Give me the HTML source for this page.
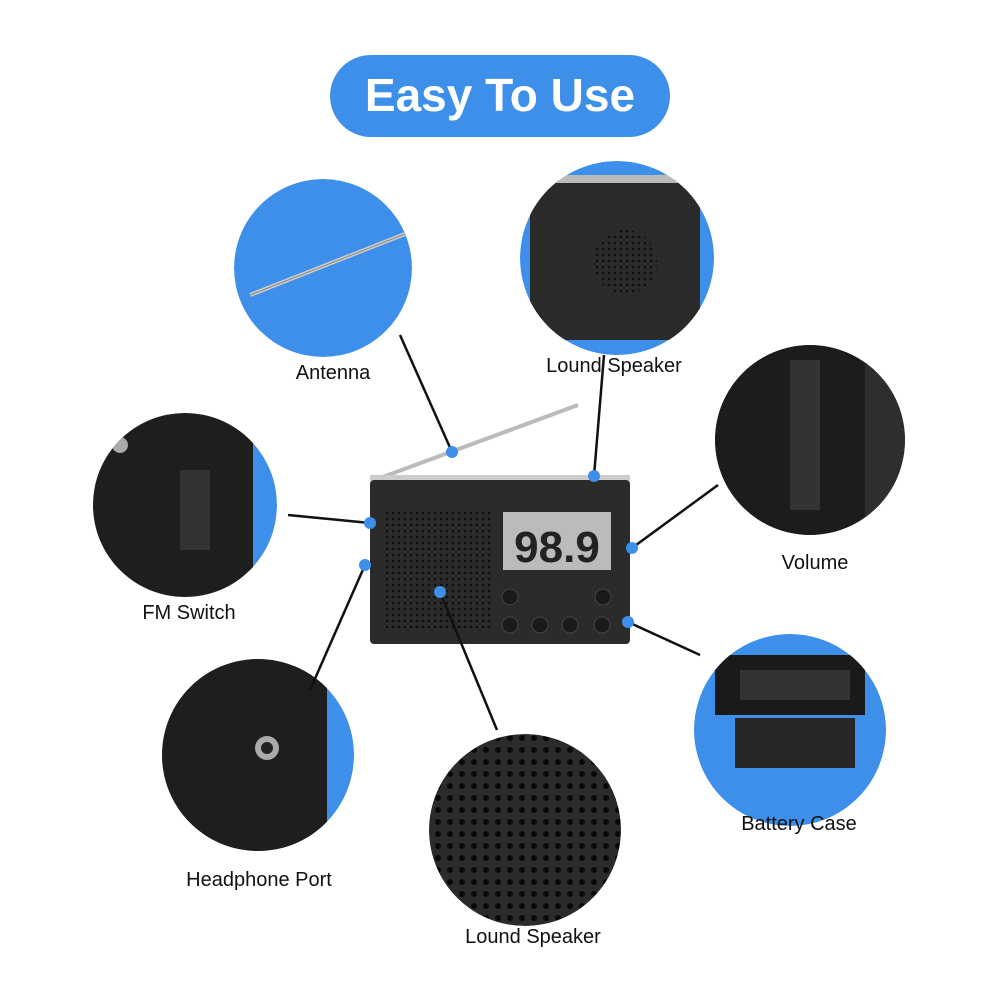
<!DOCTYPE html>
<html><head><style>
body{margin:0;background:#fff;width:1000px;height:1000px;overflow:hidden}
</style></head><body>
<svg width="1000" height="1000" viewBox="0 0 1000 1000" xmlns="http://www.w3.org/2000/svg" font-family="Liberation Sans, sans-serif">
<defs>
<pattern id="dots" width="6" height="6" patternUnits="userSpaceOnUse"><rect width="6" height="6" fill="#2a2a2a"/><circle cx="3" cy="3" r="1.3" fill="#0d0d0d"/></pattern>
<pattern id="dots2" width="12" height="12" patternUnits="userSpaceOnUse"><rect width="12" height="12" fill="#2b2b2b"/><circle cx="6" cy="6" r="3" fill="#080808"/></pattern>
<clipPath id="c1"><circle cx="323" cy="268" r="89"/></clipPath>
<clipPath id="c2"><circle cx="617" cy="258" r="97"/></clipPath>
<clipPath id="c3"><circle cx="810" cy="440" r="95"/></clipPath>
<clipPath id="c4"><circle cx="185" cy="505" r="92"/></clipPath>
<clipPath id="c5"><circle cx="258" cy="755" r="96"/></clipPath>
<clipPath id="c6"><circle cx="525" cy="830" r="96"/></clipPath>
<clipPath id="c7"><circle cx="790" cy="730" r="96"/></clipPath>
</defs>
<rect x="330" y="55" width="340" height="82" rx="41" fill="#3d8fea"/>
<text x="500" y="111" text-anchor="middle" font-size="46" font-weight="bold" fill="#fff">Easy To Use</text>

<g clip-path="url(#c1)"><circle cx="323" cy="268" r="89" fill="#3d8fea"/>
<line x1="250" y1="295" x2="410" y2="232" stroke="#ccc" stroke-width="4"/><line x1="250" y1="295" x2="410" y2="232" stroke="#888" stroke-width="1"/></g>
<g clip-path="url(#c2)"><circle cx="617" cy="258" r="97" fill="#3d8fea"/>
<rect x="530" y="180" width="170" height="160" rx="8" fill="#2a2a2a"/>
<rect x="525" y="175" width="180" height="8" fill="#bbb"/>
<circle cx="625" cy="262" r="32" fill="url(#dots)"/></g>
<g clip-path="url(#c3)"><circle cx="810" cy="440" r="95" fill="#3d8fea"/>
<rect x="715" y="345" width="185" height="190" fill="#1c1c1c"/>
<rect x="790" y="360" width="30" height="150" fill="#333"/>
<rect x="865" y="345" width="40" height="190" fill="#2e2e2e"/></g>
<g clip-path="url(#c4)"><circle cx="185" cy="505" r="92" fill="#3d8fea"/>
<rect x="93" y="413" width="160" height="184" fill="#1e1e1e"/>
<rect x="180" y="470" width="30" height="80" fill="#333"/>
<circle cx="120" cy="445" r="8" fill="#aaa"/></g>
<g clip-path="url(#c5)"><circle cx="258" cy="755" r="96" fill="#3d8fea"/>
<rect x="162" y="659" width="165" height="192" fill="#1e1e1e"/>
<circle cx="267" cy="748" r="12" fill="#aaa"/><circle cx="267" cy="748" r="6" fill="#222"/></g>
<g clip-path="url(#c6)"><circle cx="525" cy="830" r="96" fill="url(#dots2)"/></g>
<g clip-path="url(#c7)"><circle cx="790" cy="730" r="96" fill="#3d8fea"/>
<rect x="715" y="655" width="150" height="60" fill="#1a1a1a"/>
<rect x="740" y="670" width="110" height="30" fill="#333"/>
<rect x="735" y="718" width="120" height="50" fill="#262626"/></g>

<line x1="380" y1="478" x2="578" y2="405" stroke="#bbb" stroke-width="4"/>
<rect x="370" y="475" width="260" height="6" fill="#ccc"/>
<rect x="370" y="480" width="260" height="164" rx="4" fill="#2b2b2b"/>
<rect x="385" y="510" width="108" height="118" fill="url(#dots)"/>
<rect x="503" y="512" width="108" height="58" fill="#bbb"/>
<text x="557" y="562" text-anchor="middle" font-size="44" font-weight="bold" fill="#222">98.9</text>
<g fill="#1a1a1a" stroke="#444"><circle cx="510" cy="597" r="8"/><circle cx="603" cy="597" r="8"/><circle cx="510" cy="625" r="8"/><circle cx="540" cy="625" r="8"/><circle cx="570" cy="625" r="8"/><circle cx="602" cy="625" r="8"/></g>

<g stroke="#111" stroke-width="2.5">
<line x1="400" y1="335" x2="452" y2="452"/>
<line x1="604" y1="355" x2="594" y2="476"/>
<line x1="718" y1="485" x2="632" y2="548"/>
<line x1="288" y1="515" x2="370" y2="523"/>
<line x1="310" y1="690" x2="365" y2="565"/>
<line x1="497" y1="730" x2="440" y2="592"/>
<line x1="700" y1="655" x2="628" y2="622"/>
</g>
<g fill="#3d8fea"><circle cx="452" cy="452" r="6"/><circle cx="594" cy="476" r="6"/><circle cx="632" cy="548" r="6"/><circle cx="370" cy="523" r="6"/><circle cx="365" cy="565" r="6"/><circle cx="440" cy="592" r="6"/><circle cx="628" cy="622" r="6"/></g>

<g font-size="20" fill="#111" text-anchor="middle">
<text x="333" y="379">Antenna</text>
<text x="614" y="372">Lound Speaker</text>
<text x="815" y="569">Volume</text>
<text x="189" y="619">FM Switch</text>
<text x="259" y="886">Headphone Port</text>
<text x="533" y="943">Lound Speaker</text>
<text x="799" y="830">Battery Case</text>
</g>
</svg>
</body></html>
